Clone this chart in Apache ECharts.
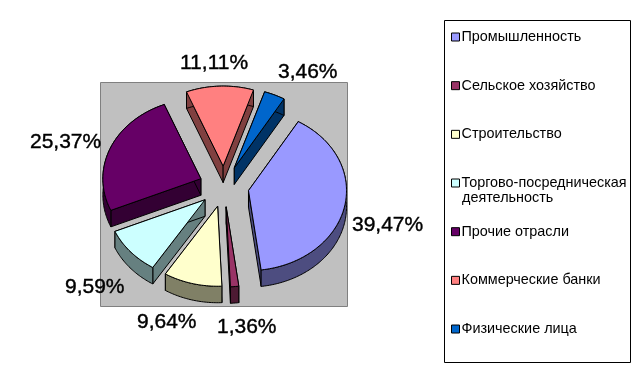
<!DOCTYPE html>
<html><head><meta charset="utf-8">
<style>html,body{margin:0;padding:0;background:#fff}#c{width:641px;height:388px}</style>
<script src="https://cdn.jsdelivr.net/npm/echarts@6/dist/echarts.min.js"></script>
</head><body><div id="c"></div>
<script>
const categories = ['Промышленность','Сельское хозяйство','Строительство','Торгово-посредническая','Прочие отрасли','Коммерческие банки','Физические лица'];
const values = [39.47,1.36,9.64,9.59,25.37,11.11,3.46];
const topColors = ['#9999FF','#993366','#FFFFCC','#CCFFFF','#660066','#FF8080','#0066CC'];
const sideColors = ['#4D4D80','#4D1A33','#808066','#668080','#330033','#804040','#003366'];
const labelPositions = [[352,225],[217,327],[137,322],[65,287],[30,142],[180,63],[278,72]];

const CX=224, CY=186.5, RX=98, RY=80, DEPTH=16.5, EXPLODE=25, START=30.5;
const total = values.reduce((a,b)=>a+b,0);
const rad = d=>d*Math.PI/180;

function renderSlice(params, api){
  const i = params.seriesIndex;
  const v = api.value(0);
  let a0 = START;
  for(let k=0;k<i;k++) a0 += values[k]/total*360;
  const a1 = a0 + v/total*360, mid=(a0+a1)/2;
  const ax = CX+EXPLODE*Math.sin(rad(mid)), ay = CY-EXPLODE*(RY/RX)*Math.cos(rad(mid));
  const rim = [];
  const n = Math.max(2,Math.ceil(a1-a0));
  for(let j=0;j<=n;j++){
    const t=a0+(a1-a0)*j/n;
    rim.push([ax+RX*Math.sin(rad(t)), ay-RY*Math.cos(rad(t))]);
  }
  const down = p=>[p[0],p[1]+DEPTH];
  const stroke={stroke:'#000',lineWidth:1,lineJoin:'round'};
  const side={fill:sideColors[i],...stroke};
  const poly=(pts,style)=>({type:'polygon',shape:{points:pts},style});
  const first=rim[0], last=rim[rim.length-1], apex=[ax,ay];
  const wall = rim.concat(rim.slice().reverse().map(down));
  return {type:'group',children:[
    poly([apex,first,down(first),down(apex)],side),
    poly([apex,last,down(last),down(apex)],side),
    poly(wall,side),
    poly([apex].concat(rim),{fill:topColors[i],...stroke})
  ]};
}

const series = categories.map((name,i)=>({
  type:'custom',name,coordinateSystem:'none',
  renderItem:renderSlice,
  data:[[values[i]]],
  itemStyle:{color:topColors[i]},
  z:2,silent:true,animation:false
}));

const graphic = [
  {type:'rect',z:0,shape:{x:100.5,y:82.5,width:247,height:224},style:{fill:'#C0C0C0',stroke:'#808080',lineWidth:1}},
  {type:'rect',z:0,shape:{x:444.5,y:20.5,width:186,height:342},style:{fill:'#fff',stroke:'#000',lineWidth:1}},
  {type:'text',z:5,x:462,y:191,style:{text:'деятельность',font:'14.4px "Liberation Sans"',fill:'#000'}}
].concat(values.map((v,i)=>({
  type:'text',z:5,x:labelPositions[i][0],y:labelPositions[i][1],
  style:{text:v.toFixed(2).replace('.',',')+'%',font:'21px "Liberation Sans"',fill:'#000',textVerticalAlign:'middle',textAlign:'left',stroke:'#000',lineWidth:0.4}
})));

const chart = echarts.init(document.getElementById('c'),null,{renderer:'canvas'});
chart.setOption({
  animation:false,
  backgroundColor:'#fff',
  legend:{
    orient:'vertical',left:451,top:30,itemWidth:8,itemHeight:8,itemGap:34.67,padding:0,
    icon:'rect',selectedMode:false,
    itemStyle:{borderColor:'#000',borderWidth:1},
    textStyle:{fontFamily:'Liberation Sans',fontSize:14.4,color:'#000',padding:[0,0,0,-3],lineHeight:14},
    data:categories.map((name,i)=>({name,itemStyle:{color:topColors[i],borderColor:'#000',borderWidth:1}}))
  },
  graphic,
  series
});
</script></body></html>
